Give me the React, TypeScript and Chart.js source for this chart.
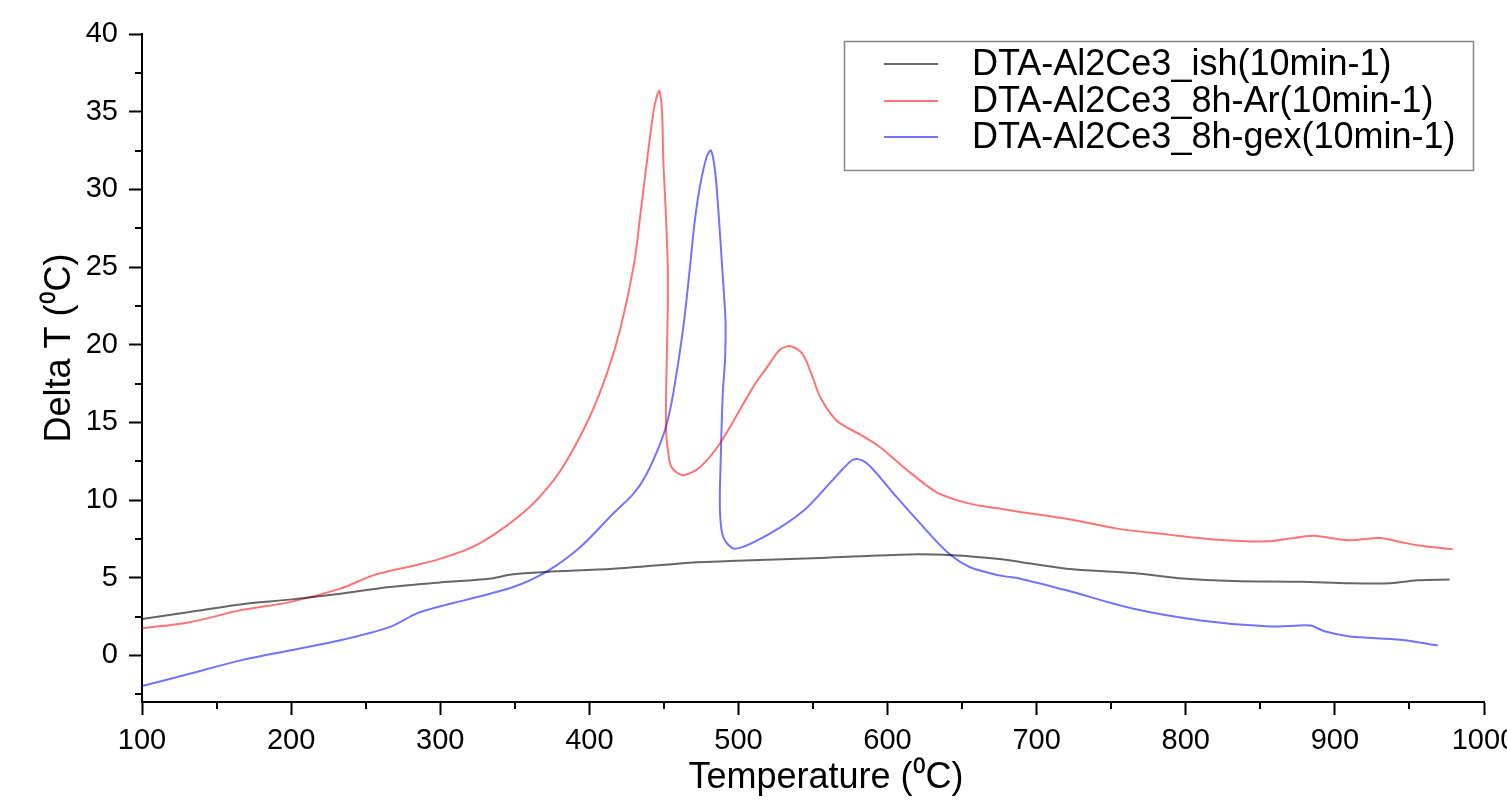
import React, { useEffect, useRef } from 'react';
import { Chart, registerables } from 'chart.js';

Chart.register(...registerables);

const FONT = '"Liberation Sans", Arial, Helvetica, sans-serif';

// ---- data ----
const ishTemp = [100, 132, 166, 199, 233, 266, 300, 333, 349, 371, 416, 472, 494, 555, 615, 644, 675, 689, 720, 765, 798, 832, 877, 910, 937, 955, 977];
const ishDelta = [2.34, 2.8, 3.28, 3.59, 3.97, 4.4, 4.7, 4.94, 5.22, 5.37, 5.58, 6.0, 6.07, 6.27, 6.5, 6.44, 6.2, 6.01, 5.58, 5.3, 4.95, 4.79, 4.74, 4.64, 4.64, 4.83, 4.88];

const arTemp = [100, 132, 166, 199, 233, 255, 278, 296, 320, 338, 360, 376, 385, 400, 412, 421, 430, 434, 438.5, 443, 445, 447, 448.8, 449.6, 451.2, 452.6, 452.6, 451.9, 451.4, 453, 455.2, 462.6, 474, 488, 510, 521, 528, 535, 543, 549, 555, 566, 582, 595, 611, 633, 655, 675, 689, 720, 754, 787, 821, 854, 877, 886, 910, 930, 944, 955, 979];
const arDelta = [1.74, 2.14, 2.9, 3.43, 4.3, 5.15, 5.69, 6.1, 6.9, 7.9, 9.55, 11.27, 12.56, 15.3, 18.2, 21.1, 25.2, 28.2, 31.7, 35.0, 35.9, 36.35, 34.9, 31.9, 28.7, 25.0, 22.2, 19.0, 14.7, 13.0, 12.1, 11.6, 12.1, 13.7, 17.3, 18.8, 19.7, 19.9, 19.4, 18.1, 16.6, 15.1, 14.2, 13.4, 12.1, 10.5, 9.77, 9.45, 9.23, 8.8, 8.16, 7.79, 7.45, 7.34, 7.62, 7.7, 7.41, 7.56, 7.3, 7.09, 6.83];

const gexTemp = [100, 132, 166, 199, 233, 266, 284, 300, 316, 349, 371, 394, 416, 429.5, 438, 447.4, 451.9, 456.3, 463, 467.5, 470.5, 474.2, 478.7, 481.6, 484.3, 486.5, 488.8, 491, 491.4, 491, 489.5, 488.1, 487.6, 489.9, 497.7, 521, 544, 561, 570, 577, 583, 590, 606, 622, 640, 655, 675, 689, 720, 765, 810, 854, 877, 884, 893, 910, 944, 969];
const gexDelta = [-1.98, -1.18, -0.32, 0.32, 0.97, 1.82, 2.69, 3.16, 3.54, 4.4, 5.37, 6.98, 9.13, 10.4, 11.6, 13.6, 14.9, 16.86, 21.1, 25.0, 27.8, 30.2, 32.1, 32.5, 31.2, 28.7, 25.4, 22.2, 21.1, 19.0, 16.86, 12.56, 9.34, 7.6, 6.87, 7.84, 9.34, 11.06, 12.0, 12.6, 12.55, 12.0, 10.2, 8.48, 6.65, 5.69, 5.15, 4.94, 4.19, 3.0, 2.25, 1.87, 1.93, 1.92, 1.55, 1.22, 1.01, 0.64];

const seriesLabels = ['DTA-Al2Ce3_ish(10min-1)', 'DTA-Al2Ce3_8h-Ar(10min-1)', 'DTA-Al2Ce3_8h-gex(10min-1)'];
const seriesColors = ['rgba(0,0,0,0.6)', 'rgba(255,0,0,0.55)', 'rgba(0,0,255,0.55)'];

const xMinorTicks = [150, 250, 350, 450, 550, 650, 750, 850, 950];
const yMinorTicks = [-2.5, 2.5, 7.5, 12.5, 17.5, 22.5, 27.5, 32.5, 37.5];

const xTitle = 'Temperature (\u2070C)';
const yTitle = 'Delta T (\u2070C)';

function zip(t: number[], v: number[]) {
  return t.map((x, i) => ({ x, y: v[i] }));
}

const extrasPlugin = {
  id: 'extras',
  afterDraw(chart: any) {
    const { ctx, chartArea, scales } = chart;
    const xs = scales.x;
    const ys = scales.y;
    ctx.save();
    // minor ticks
    ctx.strokeStyle = '#000';
    ctx.lineWidth = 2;
    ctx.beginPath();
    xMinorTicks.forEach((v) => {
      const px = Math.round(xs.getPixelForValue(v));
      ctx.moveTo(px, chartArea.bottom);
      ctx.lineTo(px, chartArea.bottom + 7);
    });
    yMinorTicks.forEach((v) => {
      const py = Math.round(ys.getPixelForValue(v));
      ctx.moveTo(chartArea.left, py);
      ctx.lineTo(chartArea.left - 7, py);
    });
    ctx.stroke();

    // axis titles
    ctx.fillStyle = '#000';
    ctx.font = `36px ${FONT}`;
    ctx.textAlign = 'center';
    ctx.textBaseline = 'middle';
    ctx.fillText(xTitle, 826, 778);
    ctx.save();
    ctx.translate(60, 348);
    ctx.rotate(-Math.PI / 2);
    ctx.fillText(yTitle, 0, 0);
    ctx.restore();

    // legend
    const bx = 844.5, by = 41.5, bw = 629, bh = 129;
    ctx.fillStyle = '#fff';
    ctx.fillRect(bx, by, bw, bh);
    ctx.strokeStyle = '#888';
    ctx.lineWidth = 1.5;
    ctx.strokeRect(bx, by, bw, bh);
    const rows = [64, 101, 137];
    ctx.font = `36px ${FONT}`;
    ctx.textAlign = 'left';
    ctx.textBaseline = 'middle';
    seriesLabels.forEach((lab, i) => {
      ctx.strokeStyle = seriesColors[i];
      ctx.lineWidth = 2;
      ctx.beginPath();
      ctx.moveTo(884, rows[i]);
      ctx.lineTo(938, rows[i]);
      ctx.stroke();
      ctx.fillStyle = '#000';
      ctx.fillText(lab, 972, rows[i] + 1);
    });
    ctx.restore();
  },
};

export default function App() {
  const ref = useRef<HTMLCanvasElement | null>(null);
  useEffect(() => {
    if (!ref.current) return;
    const datasets = [
      zip(ishTemp, ishDelta),
      zip(arTemp, arDelta),
      zip(gexTemp, gexDelta),
    ].map((data, i) => ({
      label: seriesLabels[i],
      data,
      borderColor: seriesColors[i],
      backgroundColor: seriesColors[i],
      borderWidth: 2,
      pointRadius: 0,
      showLine: true,
      tension: 0.3,
      fill: false,
    }));
    const chart = new Chart(ref.current, {
      type: 'scatter',
      data: { datasets },
      options: {
        animation: false,
        responsive: false,
        maintainAspectRatio: false,
        layout: { padding: { top: 34, right: 23, left: 0, bottom: 0 } },
        plugins: {
          legend: { display: false },
          tooltip: { enabled: false },
        },
        scales: {
          x: {
            type: 'linear',
            min: 100,
            max: 1000,
            ticks: {
              stepSize: 100,
              padding: 9,
              color: '#000',
              font: { family: FONT, size: 29 },
              maxRotation: 0,
              autoSkip: false,
              callback: (v: any) => String(v),
            },
            grid: {
              drawOnChartArea: false,
              drawTicks: true,
              tickLength: 13,
              tickWidth: 2,
              tickColor: '#000',
            },
            border: { display: true, color: '#000', width: 2 },
            afterFit: (s: any) => {
              s.height = 103;
              s.paddingLeft = 0;
              s.paddingRight = 0;
            },
          },
          y: {
            type: 'linear',
            min: -3,
            max: 40,
            ticks: {
              stepSize: 5,
              includeBounds: false,
              padding: 11,
              color: '#000',
              font: { family: FONT, size: 29 },
              autoSkip: false,
              callback: (v: any) => String(v),
            },
            grid: {
              drawOnChartArea: false,
              drawTicks: true,
              tickLength: 13,
              tickWidth: 2,
              tickColor: '#000',
            },
            border: { display: true, color: '#000', width: 2 },
            afterFit: (s: any) => {
              s.width = 142;
              s.paddingTop = 0;
              s.paddingBottom = 0;
            },
          },
        },
      },
      plugins: [extrasPlugin],
    } as any);
    return () => chart.destroy();
  }, []);
  return (
    <div style={{ position: 'fixed', left: 0, top: 0, width: 1507, height: 805, background: '#fff' }}>
      <canvas ref={ref} width={1507} height={805} style={{ width: 1507, height: 805 }} />
    </div>
  );
}
